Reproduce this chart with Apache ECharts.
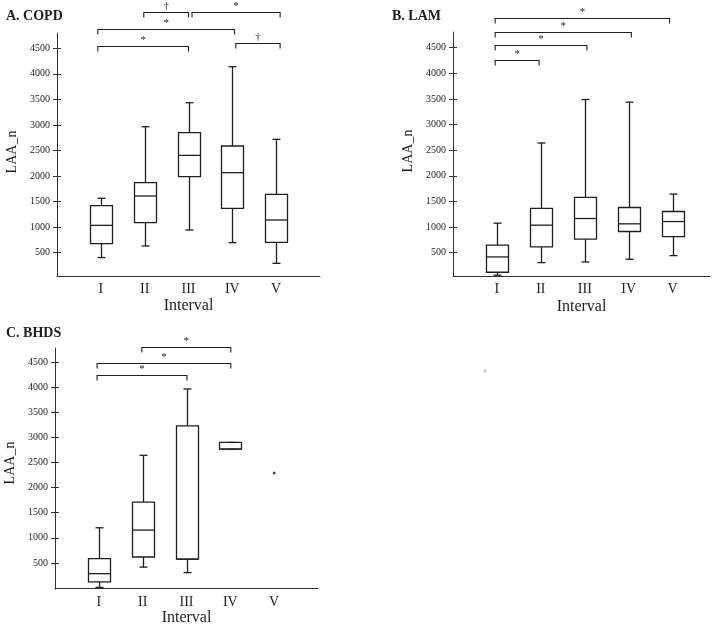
<!DOCTYPE html>
<html>
<head>
<meta charset="utf-8">
<script src="https://cdn.jsdelivr.net/npm/echarts@6/dist/echarts.min.js"></script>
<style>
html,body{margin:0;padding:0;background:#fff;}
#chart{width:714px;height:627px;}
</style>
</head>
<body>
<div id="chart"></div>
<script>
// ---------------- data ----------------
const categories = ['I', 'II', 'III', 'IV', 'V'];
const yTicks = [500, 1000, 1500, 2000, 2500, 3000, 3500, 4000, 4500];
const panelTitles = ['A. COPD', 'B. LAM', 'C. BHDS'];
const xAxisName = 'Interval';
const yAxisName = 'LAA_n';

// box statistics per interval: [min, Q1, median, Q3, max]
const copdStats = [
  [405, 678, 1035, 1420, 1565],
  [631, 1088, 1610, 1870, 2966],
  [944, 1988, 2405, 2849, 3436],
  [696, 1368, 2066, 2588, 4140],
  [292, 703, 1140, 1643, 2719]
];
const lamStats = [
  [60, 117, 416, 645, 1075],
  [305, 612, 1036, 1362, 2640],
  [318, 762, 1166, 1577, 3488],
  [371, 912, 1062, 1381, 3436],
  [442, 814, 1107, 1303, 1643]
];
const bhdsStats = [
  [11, 122, 285, 586, 1200],
  [416, 618, 1154, 1710, 2644],
  [306, 575, 575, 3232, 3965],
  [2769, 2769, 2769, 2900, 2900]
];
// single observation in BHDS interval V
const bhdsSingleCategory = 'V';
const bhdsSingleValue = 2292;

// significance brackets: [from (axis units), to (axis units), level]
const copdBrackets = [[1.98, 3.0, 5217], [3.08, 5.09, 5217], [0.93, 4.05, 4871], [4.08, 5.09, 4610], [0.93, 3.0, 4545]];
const copdMarks = ['†', '*', '*', '†', '*'];
const lamBrackets = [[0.96, 4.93, 5087], [0.96, 4.06, 4806], [0.96, 3.05, 4552], [0.96, 1.96, 4258]];
const lamMarks = ['*', '*', '*', '*'];
const bhdsBrackets = [[1.98, 4.01, 4801], [0.96, 4.01, 4474], [0.96, 3.01, 4245]];
const bhdsMarks = ['*', '*', '*'];

// ---------------- chart ----------------
const FONT = '"Liberation Serif", "Times New Roman", serif';
const INK = '#1e1e1e';

const grids = [
  { left: 57, top: 33, width: 263, height: 243, ymin: 44, ymax: 4800, xmax: 6, nameGap: 22 },
  { left: 453, top: 32, width: 257, height: 244, ymin: 44, ymax: 4806, xmax: 5.85, nameGap: 23 },
  { left: 55, top: 348, width: 263, height: 245, ymin: -22, ymax: 4782, xmax: 6, nameGap: 15 }
];

function boxRender(params, api) {
  const x = api.value(0);
  const pMin = api.coord([x, api.value(1)]);
  const pQ1 = api.coord([x, api.value(2)]);
  const pMed = api.coord([x, api.value(3)]);
  const pQ3 = api.coord([x, api.value(4)]);
  const pMax = api.coord([x, api.value(5)]);
  const cx = Math.round(pMin[0]) + 0.5;
  const hw = 11, cw = 4;
  const st = { stroke: INK, lineWidth: 1.3, fill: null };
  const line = (x1, y1, x2, y2) => ({ type: 'line', shape: { x1, y1, x2, y2 }, style: st });
  return {
    type: 'group',
    children: [
      line(cx, pQ3[1], cx, pMax[1]),
      line(cx, pQ1[1], cx, pMin[1]),
      line(cx - cw, pMax[1], cx + cw, pMax[1]),
      line(cx - cw, pMin[1], cx + cw, pMin[1]),
      { type: 'rect', shape: { x: cx - hw, y: pQ3[1], width: 2 * hw, height: pQ1[1] - pQ3[1] },
        style: { stroke: INK, lineWidth: 1.3, fill: '#fff' } },
      line(cx - hw, pMed[1], cx + hw, pMed[1])
    ]
  };
}

function bracketRender(marks) {
  return function (params, api) {
    const y = api.value(2);
    const p1 = api.coord([api.value(0), y]);
    const p2 = api.coord([api.value(1), y]);
    const yy = Math.round(p1[1]) + 0.5;
    const drop = 5;
    return {
      type: 'group',
      children: [
        { type: 'polyline', shape: { points: [[p1[0], yy + drop], [p1[0], yy], [p2[0], yy], [p2[0], yy + drop]] },
          style: { stroke: INK, lineWidth: 1.1, fill: null } },
        { type: 'text', x: (p1[0] + p2[0]) / 2, y: yy - 1,
          style: { text: marks[params.dataIndex], fill: INK, font: '11px ' + FONT, align: 'center', verticalAlign: 'bottom' } }
      ]
    };
  };
}

const option = {
  animation: false,
  backgroundColor: '#fff',
  grid: grids.map(g => ({ left: g.left, top: g.top, width: g.width, height: g.height })),
  xAxis: grids.map((g, i) => ({
    type: 'value', gridIndex: i, min: 0, max: g.xmax,
    name: xAxisName, nameLocation: 'middle', nameGap: g.nameGap,
    nameTextStyle: { fontFamily: FONT, fontSize: 16, color: INK },
    axisLine: { show: true, lineStyle: { color: '#333', width: 1 } },
    axisTick: { show: false },
    splitLine: { show: false },
    axisLabel: {
      customValues: [1, 2, 3, 4, 5],
      formatter: v => categories[Math.round(v) - 1] || '',
      fontFamily: FONT, fontSize: 14, color: INK, margin: 6
    }
  })),
  yAxis: [].concat(...grids.map((g, i) => ([
    {
      type: 'value', gridIndex: i, min: g.ymin, max: g.ymax,
      axisLine: { show: true, lineStyle: { color: '#333', width: 1 } },
      axisTick: { show: true, length: 4, customValues: yTicks, lineStyle: { color: '#333', width: 1 } },
      axisLabel: { customValues: yTicks, formatter: v => String(v), fontFamily: FONT, fontSize: 10, color: INK, margin: 7 },
      splitLine: { show: false }
    },
    {
      type: 'value', gridIndex: i, min: g.ymin, max: g.ymax, position: 'left',
      axisLine: { show: false },
      axisTick: { show: true, inside: true, length: 4, customValues: yTicks, lineStyle: { color: '#333', width: 1 } },
      axisLabel: { show: false },
      splitLine: { show: false }
    }
  ]))),
  series: [
    { type: 'custom', xAxisIndex: 0, yAxisIndex: 0, renderItem: boxRender, encode: { x: 0, y: [1, 2, 3, 4, 5] },
      data: copdStats.map((s, i) => [i + 1].concat(s)) },
    { type: 'custom', xAxisIndex: 1, yAxisIndex: 2, renderItem: boxRender, encode: { x: 0, y: [1, 2, 3, 4, 5] },
      data: lamStats.map((s, i) => [i + 1].concat(s)) },
    { type: 'custom', xAxisIndex: 2, yAxisIndex: 4, renderItem: boxRender, encode: { x: 0, y: [1, 2, 3, 4, 5] },
      data: bhdsStats.map((s, i) => [i + 1].concat(s)) },
    { type: 'scatter', xAxisIndex: 2, yAxisIndex: 4, symbol: 'circle', symbolSize: 3,
      itemStyle: { color: INK },
      data: [[categories.indexOf(bhdsSingleCategory) + 1, bhdsSingleValue]] },
    { type: 'custom', xAxisIndex: 0, yAxisIndex: 0, clip: false, renderItem: bracketRender(copdMarks),
      encode: { x: [0, 1], y: 2 }, data: copdBrackets },
    { type: 'custom', xAxisIndex: 1, yAxisIndex: 2, clip: false, renderItem: bracketRender(lamMarks),
      encode: { x: [0, 1], y: 2 }, data: lamBrackets },
    { type: 'custom', xAxisIndex: 2, yAxisIndex: 4, clip: false, renderItem: bracketRender(bhdsMarks),
      encode: { x: [0, 1], y: 2 }, data: bhdsBrackets }
  ],
  graphic: [
    { type: 'text', left: 6, top: 9, style: { text: panelTitles[0], font: 'bold 14px ' + FONT, fill: INK } },
    { type: 'text', left: 392, top: 9, style: { text: panelTitles[1], font: 'bold 14px ' + FONT, fill: INK } },
    { type: 'text', left: 6, top: 326, style: { text: panelTitles[2], font: 'bold 14px ' + FONT, fill: INK } },
    { type: 'text', x: 12.5, y: 152, rotation: Math.PI / 2,
      style: { text: yAxisName, font: '14px ' + FONT, fill: INK, align: 'center', verticalAlign: 'middle' } },
    { type: 'text', x: 408, y: 151, rotation: Math.PI / 2,
      style: { text: yAxisName, font: '14px ' + FONT, fill: INK, align: 'center', verticalAlign: 'middle' } },
    { type: 'text', x: 10, y: 463, rotation: Math.PI / 2,
      style: { text: yAxisName, font: '14px ' + FONT, fill: INK, align: 'center', verticalAlign: 'middle' } },
    { type: 'circle', shape: { cx: 485, cy: 371, r: 1.8 }, style: { fill: '#cfcfcf' } }
  ]
};

const chart = echarts.init(document.getElementById('chart'), null, { renderer: 'canvas' });
chart.setOption(option);
</script>
</body>
</html>
